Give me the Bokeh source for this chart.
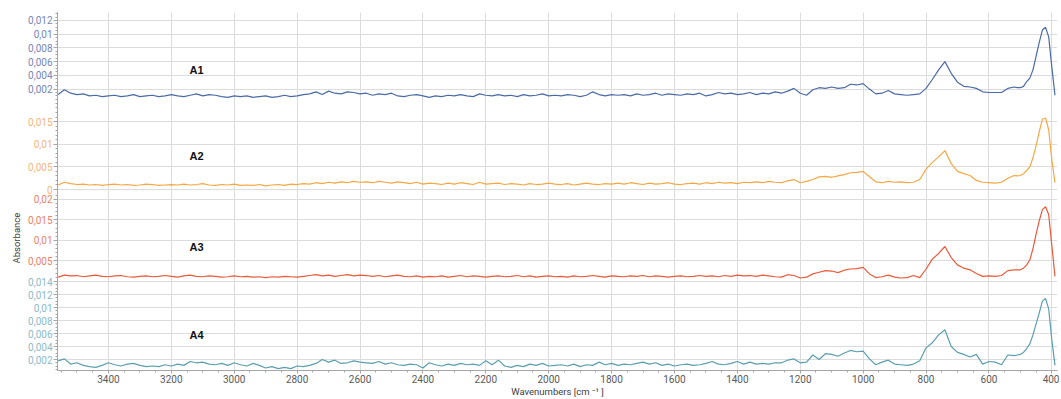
from bokeh.plotting import figure
from bokeh.models import Range1d, FixedTicker, CustomJSTickFormatter, Label, GridBox, Title
from bokeh.embed import file_html
from bokeh.resources import INLINE

# ---------------- data ----------------
wavenumbers = list(range(3560, 520, -20)) + list(range(520, 380, -10))

a1 = [
    0.0012, 0.0019, 0.0014, 0.0012, 0.0013, 0.0010, 0.0011, 0.0009, 0.0010, 0.0011,
    0.0009, 0.0010, 0.0012, 0.0009, 0.0010, 0.0011, 0.0009, 0.0010, 0.0012, 0.0010,
    0.0009, 0.0011, 0.0013, 0.0010, 0.0012, 0.0011, 0.0009, 0.0008, 0.0010, 0.0009,
    0.0010, 0.0008, 0.0009, 0.0010, 0.0008, 0.0009, 0.0011, 0.0009, 0.0010, 0.0012,
    0.0013, 0.0016, 0.0012, 0.0017, 0.0014, 0.0013, 0.0016, 0.0015, 0.0013, 0.0014,
    0.0011, 0.0013, 0.0012, 0.0014, 0.0010, 0.0009, 0.0011, 0.0012, 0.0010, 0.0008,
    0.0010, 0.0009, 0.0011, 0.0010, 0.0012, 0.0010, 0.0009, 0.0013, 0.0011, 0.0010,
    0.0012, 0.0010, 0.0011, 0.0009, 0.0012, 0.0010, 0.0011, 0.0013, 0.0010, 0.0011,
    0.0010, 0.0012, 0.0011, 0.0009, 0.0011, 0.0016, 0.0012, 0.0010, 0.0012, 0.0011,
    0.0012, 0.0010, 0.0013, 0.0011, 0.0012, 0.0014, 0.0011, 0.0013, 0.0012, 0.0011,
    0.0013, 0.0012, 0.0014, 0.0010, 0.0012, 0.0015, 0.0013, 0.0014, 0.0012, 0.0013,
    0.0015, 0.0012, 0.0014, 0.0013, 0.0016, 0.0014, 0.0017, 0.0021, 0.0014, 0.0011,
    0.0019, 0.0022, 0.0021, 0.0023, 0.0021, 0.0022, 0.0027, 0.0026, 0.0028, 0.0020,
    0.0013, 0.0014, 0.0018, 0.0013, 0.0012, 0.0011, 0.0012, 0.0013, 0.0021, 0.0034,
    0.0048, 0.0060, 0.0043, 0.0030, 0.0024, 0.0023, 0.0021, 0.0016, 0.0015, 0.0015,
    0.0015, 0.0021,
    0.0023, 0.0022, 0.0022, 0.0024, 0.0031, 0.0036, 0.0048, 0.0068, 0.0088, 0.0106,
    0.0110, 0.0096, 0.0052, 0.0011,
]

a2 = [
    0.0010, 0.0016, 0.0013, 0.0011, 0.0012, 0.0010, 0.0011, 0.0009, 0.0011, 0.0012,
    0.0010, 0.0011, 0.0009, 0.0010, 0.0012, 0.0011, 0.0009, 0.0010, 0.0011, 0.0010,
    0.0012, 0.0010, 0.0011, 0.0013, 0.0010, 0.0009, 0.0011, 0.0010, 0.0012, 0.0009,
    0.0010, 0.0009, 0.0011, 0.0008, 0.0010, 0.0011, 0.0009, 0.0012, 0.0011, 0.0013,
    0.0012, 0.0015, 0.0013, 0.0016, 0.0014, 0.0017, 0.0015, 0.0018, 0.0016, 0.0017,
    0.0015, 0.0018, 0.0016, 0.0014, 0.0017, 0.0015, 0.0013, 0.0016, 0.0012, 0.0014,
    0.0013, 0.0011, 0.0014, 0.0012, 0.0015, 0.0013, 0.0011, 0.0016, 0.0012, 0.0013,
    0.0014, 0.0011, 0.0013, 0.0012, 0.0010, 0.0013, 0.0011, 0.0012, 0.0014, 0.0012,
    0.0011, 0.0013, 0.0010, 0.0012, 0.0014, 0.0012, 0.0011, 0.0013, 0.0012, 0.0014,
    0.0012, 0.0015, 0.0013, 0.0011, 0.0014, 0.0012, 0.0013, 0.0015, 0.0012, 0.0011,
    0.0013, 0.0014, 0.0012, 0.0015, 0.0013, 0.0016, 0.0014, 0.0015, 0.0013, 0.0016,
    0.0015, 0.0017, 0.0015, 0.0018, 0.0016, 0.0015, 0.0019, 0.0022, 0.0015, 0.0018,
    0.0022, 0.0028, 0.0029, 0.0027, 0.0030, 0.0033, 0.0037, 0.0038, 0.0040, 0.0028,
    0.0017, 0.0015, 0.0018, 0.0016, 0.0017, 0.0015, 0.0016, 0.0022, 0.0045, 0.0060,
    0.0072, 0.0086, 0.0057, 0.0040, 0.0035, 0.0031, 0.0020, 0.0016, 0.0015, 0.0014,
    0.0016, 0.0025,
    0.0031, 0.0030, 0.0031, 0.0035, 0.0042, 0.0050, 0.0070, 0.0097, 0.0128, 0.0155,
    0.0158, 0.0132, 0.0066, 0.0015,
]

a3 = [
    0.0010, 0.0015, 0.0013, 0.0014, 0.0011, 0.0013, 0.0015, 0.0012, 0.0011, 0.0013,
    0.0014, 0.0011, 0.0010, 0.0012, 0.0013, 0.0011, 0.0012, 0.0014, 0.0012, 0.0010,
    0.0013, 0.0015, 0.0012, 0.0011, 0.0013, 0.0012, 0.0010, 0.0011, 0.0013, 0.0011,
    0.0012, 0.0010, 0.0011, 0.0009, 0.0011, 0.0010, 0.0012, 0.0011, 0.0010, 0.0012,
    0.0014, 0.0016, 0.0013, 0.0015, 0.0012, 0.0014, 0.0016, 0.0013, 0.0015, 0.0014,
    0.0012, 0.0014, 0.0011, 0.0013, 0.0015, 0.0012, 0.0011, 0.0013, 0.0010, 0.0012,
    0.0011, 0.0013, 0.0010, 0.0012, 0.0014, 0.0011, 0.0013, 0.0012, 0.0010, 0.0012,
    0.0013, 0.0011, 0.0012, 0.0014, 0.0011, 0.0013, 0.0010, 0.0012, 0.0013, 0.0011,
    0.0012, 0.0010, 0.0013, 0.0011, 0.0012, 0.0014, 0.0012, 0.0010, 0.0013, 0.0012,
    0.0011, 0.0013, 0.0012, 0.0014, 0.0011, 0.0013, 0.0012, 0.0010, 0.0012, 0.0013,
    0.0011, 0.0012, 0.0014, 0.0012, 0.0013, 0.0011, 0.0014, 0.0012, 0.0015, 0.0013,
    0.0014, 0.0012, 0.0015, 0.0013, 0.0011, 0.0010, 0.0016, 0.0014, 0.0008, 0.0010,
    0.0018, 0.0022, 0.0026, 0.0025, 0.0021, 0.0027, 0.0030, 0.0031, 0.0034, 0.0018,
    0.0009, 0.0011, 0.0015, 0.0010, 0.0008, 0.0009, 0.0014, 0.0009, 0.0030, 0.0054,
    0.0068, 0.0085, 0.0058, 0.0040, 0.0032, 0.0028, 0.0019, 0.0012, 0.0013, 0.0012,
    0.0014, 0.0026,
    0.0028, 0.0028, 0.0028, 0.0032, 0.0040, 0.0052, 0.0080, 0.0115, 0.0148, 0.0175,
    0.0182, 0.0163, 0.0087, 0.0012,
]

a4 = [
    0.0018, 0.0021, 0.0013, 0.0015, 0.0011, 0.0009, 0.0008, 0.0011, 0.0015, 0.0012,
    0.0010, 0.0013, 0.0014, 0.0011, 0.0009, 0.0010, 0.0009, 0.0012, 0.0010, 0.0013,
    0.0011, 0.0017, 0.0015, 0.0016, 0.0013, 0.0012, 0.0014, 0.0011, 0.0015, 0.0012,
    0.0010, 0.0014, 0.0011, 0.0007, 0.0009, 0.0006, 0.0008, 0.0006, 0.0010, 0.0009,
    0.0011, 0.0014, 0.0020, 0.0016, 0.0019, 0.0014, 0.0015, 0.0018, 0.0016, 0.0015,
    0.0014, 0.0017, 0.0013, 0.0015, 0.0012, 0.0011, 0.0013, 0.0012, 0.0007, 0.0015,
    0.0012, 0.0010, 0.0013, 0.0011, 0.0014, 0.0012, 0.0013, 0.0011, 0.0018, 0.0012,
    0.0019, 0.0010, 0.0008, 0.0011, 0.0009, 0.0013, 0.0011, 0.0014, 0.0010, 0.0011,
    0.0012, 0.0010, 0.0013, 0.0009, 0.0012, 0.0011, 0.0016, 0.0012, 0.0014, 0.0011,
    0.0013, 0.0012, 0.0014, 0.0016, 0.0013, 0.0015, 0.0011, 0.0013, 0.0010, 0.0012,
    0.0013, 0.0011, 0.0012, 0.0014, 0.0017, 0.0013, 0.0012, 0.0014, 0.0017, 0.0013,
    0.0016, 0.0013, 0.0014, 0.0013, 0.0015, 0.0015, 0.0019, 0.0021, 0.0015, 0.0016,
    0.0027, 0.0020, 0.0029, 0.0028, 0.0025, 0.0030, 0.0034, 0.0032, 0.0033, 0.0021,
    0.0012, 0.0016, 0.0019, 0.0013, 0.0012, 0.0011, 0.0013, 0.0018, 0.0038, 0.0046,
    0.0058, 0.0066, 0.0040, 0.0031, 0.0028, 0.0024, 0.0028, 0.0013, 0.0017, 0.0016,
    0.0012, 0.0027,
    0.0026, 0.0027, 0.0028, 0.0031, 0.0037, 0.0044, 0.0058, 0.0075, 0.0092, 0.0110,
    0.0114, 0.0098, 0.0050, 0.0011,
]

series = [a1, a2, a3, a4]
series_names = ["A1", "A2", "A3", "A4"]

y_ticks = [
    [0.002, 0.004, 0.006, 0.008, 0.01, 0.012],
    [0, 0.005, 0.01, 0.015],
    [0.005, 0.01, 0.015, 0.02],
    [0.002, 0.004, 0.006, 0.008, 0.01, 0.012, 0.014],
]
x_ticks = [400, 600, 800, 1000, 1200, 1400, 1600, 1800, 2000, 2200,
           2400, 2600, 2800, 3000, 3200, 3400]

# ---------------- styling / layout ----------------
line_colors = ["#4A6AA5", "#F4A742", "#E85A3A", "#5B9EAE"]
tick_colors = ["#7586B6", "#F5B57C", "#EE7F66", "#8BBAC6"]
# full-frame value range of each stacked panel (panels overlap in one frame)
panel_ranges = [(-0.03901, 0.01316), (-0.03997, 0.03909),
                (-0.02182, 0.06571), (0.00031, 0.05549)]
minor_specs = [(0.0005, 0.0005, 26), (0.0, 0.001, 20), (0.001, 0.001, 21), (0.0005, 0.0005, 28)]
name_pos = [(3120, 0.00475), (3120, 0.0075), (3120, 0.0083), (3120, 0.0058)]

W, H = 1059, 399
FONT = "Roboto"
AXIS_GRAY = "#A6A6A6"
GRID_GRAY = "#DCDCDC"

x_range = Range1d(3562, 382)
comma_fmt = CustomJSTickFormatter(code="return tick.toString().replace('.', ',');")

figs = []
for k in range(4):
    show_x = (k == 0)
    p = figure(width=W, height=H, x_range=x_range, y_range=Range1d(*panel_ranges[k]),
               output_backend="svg", toolbar_location=None, tools="",
               x_axis_location="below" if show_x else None,
               min_border_left=57, min_border_right=2, min_border_top=12, min_border_bottom=27,
               background_fill_color=None, border_fill_color=None, outline_line_color=None)

    # x grid / axis
    if show_x:
        p.xgrid.ticker = FixedTicker(ticks=x_ticks)
        p.xgrid.grid_line_color = GRID_GRAY
        ax = p.xaxis[0]
        ax.ticker = FixedTicker(ticks=x_ticks, minor_ticks=[400 + 50 * i for i in range(64)])
        ax.axis_label = "Wavenumbers [cm \u207b\u00b9 ]"
        ax.axis_label_text_font = FONT
        ax.axis_label_text_font_size = "9.5px"
        ax.axis_label_text_font_style = "normal"
        ax.axis_label_text_color = "#404040"
        ax.axis_label_standoff = 0
        ax.major_label_text_font = FONT
        ax.major_label_text_font_size = "10px"
        ax.major_label_text_color = "#595959"
        ax.major_label_standoff = 1
        ax.axis_line_color = AXIS_GRAY
        ax.major_tick_line_color = AXIS_GRAY
        ax.minor_tick_line_color = AXIS_GRAY
        ax.major_tick_out = 3
        ax.major_tick_in = 0
        ax.minor_tick_out = 2
        ax.minor_tick_in = 0
    else:
        p.xgrid.visible = False

    # y grid / axis
    start, step, n = minor_specs[k]
    yax = p.yaxis[0]
    yax.ticker = FixedTicker(ticks=y_ticks[k], minor_ticks=[start + step * i for i in range(n)])
    yax.formatter = comma_fmt
    yax.major_label_text_font = FONT
    yax.major_label_text_font_size = "10px"
    yax.major_label_text_color = tick_colors[k]
    yax.major_label_standoff = 1
    yax.axis_line_color = AXIS_GRAY
    yax.major_tick_line_color = AXIS_GRAY
    yax.minor_tick_line_color = AXIS_GRAY
    yax.major_tick_out = 4
    yax.major_tick_in = 0
    yax.minor_tick_out = 2
    yax.minor_tick_in = 0
    p.ygrid.ticker = FixedTicker(ticks=y_ticks[k])
    p.ygrid.grid_line_color = GRID_GRAY

    p.line(wavenumbers, series[k], line_color=line_colors[k], line_width=1.2)

    nx, ny = name_pos[k]
    p.add_layout(Label(x=nx, y=ny, text=series_names[k], text_font="Liberation Sans",
                       text_font_style="bold", text_font_size="11px", text_color="#111111",
                       text_align="center", text_baseline="middle"))
    if k == 2:
        # shared y title, placed over the band of the third spectrum
        p.add_layout(Title(text="Absorbance", align="left", offset=107, standoff=7,
                           text_font=FONT, text_font_size="9.5px", text_font_style="normal",
                           text_color="#404040"), "left")
    figs.append(p)

layout = GridBox(children=[(p, 0, 0) for p in figs])

with open("out.html", "w") as f:
    f.write(file_html(layout, INLINE))
